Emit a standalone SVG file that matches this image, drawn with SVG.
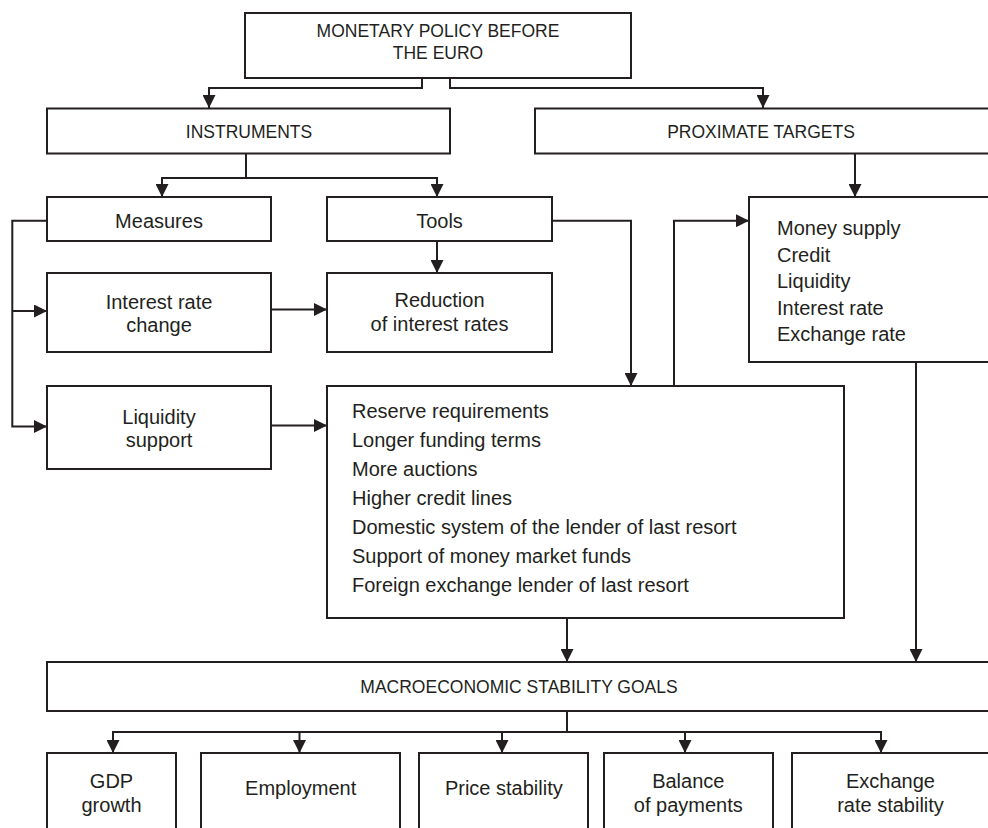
<svg xmlns="http://www.w3.org/2000/svg" width="988" height="828" viewBox="0 0 988 828">
<style>
.box{fill:#fff;stroke:#231f20;stroke-width:2}
.t{font-family:"Liberation Sans",Arial,sans-serif;font-size:20px;fill:#231f20}
.c{text-anchor:middle}
.cap{font-size:17.5px}
.ln{fill:none;stroke:#231f20;stroke-width:2}
.ar{marker-end:url(#ah)}
</style>
<defs>
<marker id="ah" markerUnits="userSpaceOnUse" markerWidth="13" markerHeight="13" viewBox="0 0 13 13" refX="13" refY="6.5" orient="auto">
<path d="M0,0 L13,6.5 L0,13 z" fill="#231f20"/>
</marker>
</defs>
<rect width="988" height="828" fill="#fff"/>
<g id="connectors">
<path class="ln ar" d="M422,78 V88 H209 V108"/>
<path class="ln ar" d="M450,78 V88 H763 V108"/>
<path class="ln" d="M246,153 V178"/>
<path class="ln ar" d="M246,178 H162 V197"/>
<path class="ln ar" d="M246,178 H437 V197"/>
<path class="ln ar" d="M437,241 V273"/>
<path class="ln ar" d="M271,309.5 H327"/>
<path class="ln ar" d="M47,220.7 H12.3 V426.5 H47"/>
<path class="ln ar" d="M12.3,311 H47"/>
<path class="ln ar" d="M271,425.5 H327"/>
<path class="ln ar" d="M552,220.7 H631 V386"/>
<path class="ln ar" d="M674,386 V220.7 H749"/>
<path class="ln ar" d="M855,153 V197"/>
<path class="ln ar" d="M916,362 V662"/>
<path class="ln ar" d="M567,618 V662"/>
<path class="ln" d="M567,711 V732 M113,732 H881"/>
<path class="ln ar" d="M113,731 V753"/>
<path class="ln ar" d="M299.5,732 V753"/>
<path class="ln ar" d="M502,732 V753"/>
<path class="ln ar" d="M685,732 V753"/>
<path class="ln ar" d="M881,731 V753"/>
</g>
<g id="monetary-policy">
<rect class="box" x="245" y="13" width="386" height="65"/>
<text class="t c cap" x="438" y="37">MONETARY POLICY BEFORE</text>
<text class="t c cap" x="438" y="59">THE EURO</text>
</g>
<g id="instruments">
<rect class="box" x="47" y="108.5" width="403" height="45"/>
<text class="t c cap" x="249" y="138">INSTRUMENTS</text>
</g>
<g id="proximate-targets">
<rect class="box" x="535" y="108.5" width="470" height="45"/>
<text class="t c cap" x="761" y="138">PROXIMATE TARGETS</text>
</g>
<g id="measures">
<rect class="box" x="47" y="197" width="224" height="44"/>
<text class="t c" x="159" y="228">Measures</text>
</g>
<g id="tools">
<rect class="box" x="327" y="197" width="225" height="44"/>
<text class="t c" x="439.5" y="228">Tools</text>
</g>
<g id="interest-rate-change">
<rect class="box" x="47" y="273" width="224" height="79"/>
<text class="t c" x="159" y="308.5">Interest rate</text>
<text class="t c" x="159" y="331.5">change</text>
</g>
<g id="reduction">
<rect class="box" x="327" y="273" width="225" height="79"/>
<text class="t c" x="439.5" y="307">Reduction</text>
<text class="t c" x="439.5" y="330.7">of interest rates</text>
</g>
<g id="liquidity-support">
<rect class="box" x="47" y="386" width="224" height="83"/>
<text class="t c" x="159" y="424.3">Liquidity</text>
<text class="t c" x="159" y="446.7">support</text>
</g>
<g id="liquidity-tools">
<rect class="box" x="327" y="386" width="517" height="232"/>
<text class="t" x="352" y="418">Reserve requirements</text>
<text class="t" x="352" y="447">Longer funding terms</text>
<text class="t" x="352" y="476">More auctions</text>
<text class="t" x="352" y="505">Higher credit lines</text>
<text class="t" x="352" y="534">Domestic system of the lender of last resort</text>
<text class="t" x="352" y="563">Support of money market funds</text>
<text class="t" x="352" y="592">Foreign exchange lender of last resort</text>
</g>
<g id="targets-list">
<rect class="box" x="749" y="197" width="260" height="165"/>
<text class="t" x="777" y="235">Money supply</text>
<text class="t" x="777" y="261.5">Credit</text>
<text class="t" x="777" y="288">Liquidity</text>
<text class="t" x="777" y="314.5">Interest rate</text>
<text class="t" x="777" y="341">Exchange rate</text>
</g>
<g id="macro-goals">
<rect class="box" x="47" y="662" width="960" height="49"/>
<text class="t c cap" x="519" y="693">MACROECONOMIC STABILITY GOALS</text>
</g>
<g id="gdp-growth">
<rect class="box" x="47" y="753" width="129" height="90"/>
<text class="t c" x="111.5" y="788.3">GDP</text>
<text class="t c" x="111.5" y="811.7">growth</text>
</g>
<g id="employment">
<rect class="box" x="201" y="753" width="199" height="90"/>
<text class="t c" x="300.7" y="795">Employment</text>
</g>
<g id="price-stability">
<rect class="box" x="419" y="753" width="169" height="90"/>
<text class="t c" x="503.8" y="795">Price stability</text>
</g>
<g id="balance-of-payments">
<rect class="box" x="604" y="753" width="169" height="90"/>
<text class="t c" x="688.3" y="788.3">Balance</text>
<text class="t c" x="688.3" y="811.7">of payments</text>
</g>
<g id="exchange-rate-stability">
<rect class="box" x="792" y="753" width="220" height="90"/>
<text class="t c" x="890.5" y="788.3">Exchange</text>
<text class="t c" x="890.5" y="811.7">rate stability</text>
</g>
</svg>
